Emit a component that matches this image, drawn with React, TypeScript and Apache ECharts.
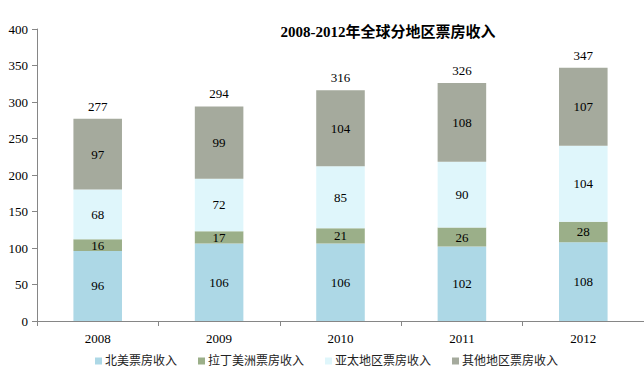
import React, { useEffect, useRef } from "react";
import * as echarts from "echarts";

const years = ["2008", "2009", "2010", "2011", "2012"];
const northAmerica = [96, 106, 106, 102, 108];
const latinAmerica = [16, 17, 21, 26, 28];
const asiaPacific = [68, 72, 85, 90, 104];
const others = [97, 99, 104, 108, 107];
const seriesNames = ["北美票房收入", "拉丁美洲票房收入", "亚太地区票房收入", "其他地区票房收入"];
const colors = ["#ADD8E6", "#9BAF89", "#DFF6FB", "#A5AA9D"];

const FONT = "Liberation Serif, Noto Sans CJK SC, serif";

export default function App() {
  const ref = useRef<HTMLDivElement>(null);
  useEffect(() => {
    const chart = echarts.init(ref.current!, null, { renderer: "svg" });
    const data = [northAmerica, latinAmerica, asiaPacific, others];
    const totals = years.map((_, i) => data.reduce((s, arr) => s + arr[i], 0));
    const label = {
      show: true,
      position: "inside",
      color: "#000",
      fontFamily: FONT,
      fontSize: 13,
    };
    chart.setOption({
      animation: false,
      title: {
        text: "2008-2012年全球分地区票房收入",
        left: 383,
        textAlign: "center",
        top: 19,
        textStyle: { fontFamily: FONT, fontSize: 15, fontWeight: "bold", color: "#000" },
      },
      grid: { left: 37, top: 29, bottom: 59, right: -30, containLabel: false },
      legend: {
        data: seriesNames,
        bottom: 8,
        left: 90,
        itemWidth: 7,
        itemHeight: 7,
        itemGap: 21,
        icon: "rect",
        textStyle: { fontFamily: FONT, fontSize: 12, color: "#222", padding: [0, 0, 0, -2] },
      },
      xAxis: {
        type: "category",
        data: years,
        axisLine: { lineStyle: { color: "#868686" } },
        axisTick: { show: true, length: 5, lineStyle: { color: "#868686" } },
        axisLabel: { color: "#000", fontFamily: FONT, fontSize: 13, margin: 11 },
      },
      yAxis: {
        type: "value",
        min: 0,
        max: 400,
        interval: 50,
        axisLine: { show: true, lineStyle: { color: "#868686" } },
        axisTick: { show: true, length: 5, lineStyle: { color: "#868686" } },
        splitLine: { show: false },
        axisLabel: { color: "#000", fontFamily: FONT, fontSize: 13, margin: 9 },
      },
      series: [
        ...data.map((d, i) => ({
          name: seriesNames[i],
          type: "bar",
          stack: "total",
          barWidth: "40%",
          data: d,
          itemStyle: { color: colors[i] },
          label,
        })),
        {
          name: "合计",
          type: "bar",
          stack: "total",
          barWidth: "40%",
          data: totals.map(() => 0),
          itemStyle: { color: "rgba(0,0,0,0)" },
          label: {
            show: true,
            position: "top",
            distance: 6,
            color: "#000",
            fontFamily: FONT,
            fontSize: 13,
            formatter: (p: any) => String(totals[p.dataIndex]),
          },
        },
      ],
    });
    return () => chart.dispose();
  }, []);
  return (
    <div
      ref={ref}
      style={{ position: "fixed", left: 0, top: 0, width: 644, height: 380, background: "#fff" }}
    />
  );
}
